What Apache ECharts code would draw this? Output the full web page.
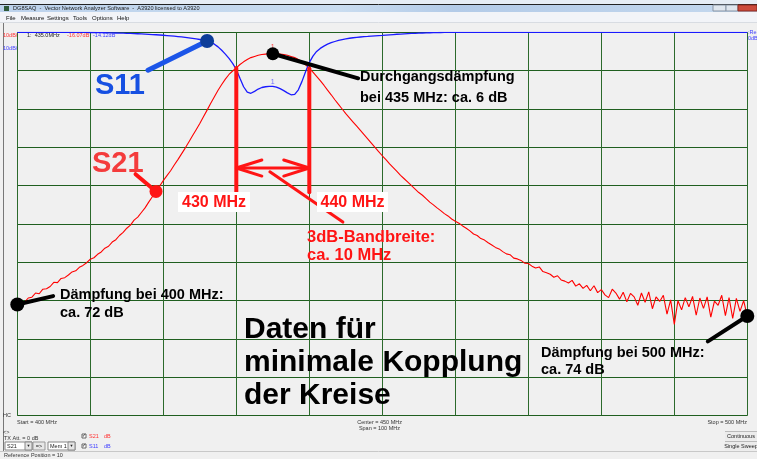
<!DOCTYPE html>
<html>
<head>
<meta charset="utf-8">
<script src="https://cdn.jsdelivr.net/npm/echarts@6/dist/echarts.min.js"></script>
<style>
html, body { margin: 0; padding: 0; background: #f0f0f0; }
#c { width: 757px; height: 459px; }
</style>
</head>
<body>
<div id="c"></div>
<script>
// Sweep: 400 ... 500 MHz, 0.5 MHz per point (201 points)
const sweepStart = 400;
const sweepStep = 0.5;

// |S21| in dB, transmission through the two coupled circuits
const s21 = [
  -71.0,-70.2,-70.4,-69.3,-69.1,-68.0,-68.2,-67.0,-66.9,-66.3,
  -65.2,-65.3,-64.2,-64.0,-63.3,-62.5,-62.2,-61.3,-60.8,-60.1,
  -59.2,-58.8,-57.9,-57.3,-56.3,-55.8,-54.7,-54.1,-53.0,-52.2,
  -51.1,-50.3,-49.0,-48.2,-47.0,-45.8,-44.3,-42.9,-41.5,-40.1,
  -38.7,-37.4,-36.1,-34.6,-33.2,-31.7,-30.2,-28.6,-27.0,-25.4,
  -23.8,-22.0,-20.3,-18.5,-16.8,-15.1,-13.6,-12.2,-11.0,-10.1,
  -9.3,-8.4,-7.7,-7.1,-6.6,-6.3,-6.0,-5.8,-5.7,-5.6,
  -5.6,-5.6,-5.7,-5.8,-6.0,-6.3,-6.6,-7.1,-7.8,-8.5,
  -9.4,-10.4,-11.5,-12.6,-13.8,-15.1,-16.3,-17.6,-18.8,-20.0,
  -21.2,-22.3,-23.4,-24.5,-25.6,-26.7,-27.8,-28.9,-30.0,-31.1,
  -32.2,-33.2,-34.3,-35.3,-36.3,-37.3,-38.2,-39.1,-40.0,-40.9,
  -41.8,-42.5,-43.4,-44.3,-45.0,-45.8,-46.5,-47.3,-47.9,-48.7,
  -49.3,-49.8,-50.5,-51.1,-51.8,-52.6,-53.0,-53.8,-54.2,-54.9,
  -55.5,-56.1,-56.5,-57.2,-57.8,-58.0,-58.9,-59.1,-59.5,-60.2,
  -60.3,-61.0,-61.5,-61.2,-62.4,-62.7,-63.1,-63.9,-63.5,-64.6,
  -64.9,-65.4,-64.7,-66.2,-65.6,-66.8,-66.0,-67.4,-66.1,-67.9,
  -67.1,-68.5,-69.2,-67.0,-68.0,-69.6,-67.8,-70.3,-68.1,-69.0,
  -71.2,-68.0,-70.4,-67.7,-72.1,-69.0,-70.2,-68.6,-73.5,-69.8,
  -76.2,-70.0,-72.4,-69.2,-71.6,-68.9,-73.8,-69.3,-72.0,-69.0,
  -74.3,-70.1,-71.2,-68.6,-73.9,-69.2,-74.6,-69.4,-72.8,-70.0,
  -74.0
];

// |S11| in dB, input reflection
const s11 = [
  0,0,0,0,0,0,0,0,0,0,
  0,0,0,0,0,0,0,0,0,0,
  -0.05,-0.05,-0.08,-0.1,-0.12,-0.14,-0.16,-0.18,-0.2,-0.23,
  -0.26,-0.3,-0.34,-0.38,-0.42,-0.47,-0.52,-0.58,-0.64,-0.7,
  -0.77,-0.85,-0.93,-1.02,-1.12,-1.22,-1.33,-1.45,-1.58,-1.72,
  -1.88,-2.05,-2.25,-2.6,-3.1,-3.8,-4.7,-5.7,-6.8,-8.1,
  -9.7,-12.0,-14.2,-15.6,-15.9,-15.4,-14.8,-14.4,-14.2,-14.1,
  -14.1,-14.3,-14.7,-15.2,-15.8,-16.3,-16.2,-15.0,-12.8,-10.2,
  -7.9,-6.2,-5.0,-4.2,-3.6,-3.1,-2.7,-2.4,-2.1,-1.9,
  -1.7,-1.55,-1.42,-1.32,-1.23,-1.15,-1.08,-1.0,-0.93,-0.86,
  -0.8,-0.72,-0.65,-0.58,-0.51,-0.45,-0.4,-0.35,-0.3,-0.26,
  -0.22,-0.18,-0.15,-0.12,-0.09,-0.07,-0.05,-0.03,-0.02,-0.01,
  0,0,0,0,0,0,0,0,0,0,
  0,0,0,0,0,0,0,0,0,0,
  0,0,0,0,0,0,0,0,0,0,
  0,0,0,0,0,0,0,0,0,0,
  0,0,0,0,0,0,0,0,0,0,
  0,0,0,0,0,0,0,0,0,0,
  0,0,0,0,0,0,0,0,0,0,
  0,0,0,0,0,0,0,0,0,0,
  0
];

// Axis ranges: 10 MHz/div horizontally, 10 dB/div vertically
const freqMin = 400, freqMax = 500, freqDiv = 10;
const dbMin = -100, dbMax = 0, dbDiv = 10;

// Marker and band edges
const markerFreq = 435;
const bandLow = 430, bandHigh = 440;

const freq = s21.map((_, i) => sweepStart + sweepStep * i);
const at = (arr, f) => arr[Math.round((f - sweepStart) / sweepStep)];
const pts = arr => arr.map((v, i) => [freq[i], v]);

const RED = '#ff1414';
const BLUE = '#1a1aff';
const FONT = '"Liberation Sans", Arial, sans-serif';

function seg(points, color, width, z) {
  return {
    type: 'line', data: points, symbol: 'none', silent: true, animation: false,
    lineStyle: { color: color, width: width, cap: 'round' }, z: z || 5, clip: false
  };
}
function dot(p, color, size) {
  return {
    type: 'scatter', data: [p], symbolSize: size, silent: true, animation: false,
    itemStyle: { color: color, opacity: 1 }, z: 8, clip: false
  };
}

// Callout anchors (MHz, dB)
const s11Dot = [426, at(s11, 426)];
const s21Dot = [419, at(s21, 419)];
const peakDot = [markerFreq, at(s21, markerFreq)];
const startDot = [freqMin, s21[0]];
const stopDot = [freqMax, s21[s21.length - 1]];
const arrowDb = -35.4;
const bandLineEnd = -41.7;

const series = [
  { name: 'S21', type: 'line', data: pts(s21), symbol: 'none', animation: false,
    lineStyle: { color: '#ff0000', width: 1.1 }, z: 3 },
  { name: 'S11', type: 'line', data: pts(s11), symbol: 'none', animation: false,
    lineStyle: { color: BLUE, width: 1.3 }, z: 3 },
  // band edge verticals
  seg([[bandLow, at(s21, bandLow)], [bandLow, bandLineEnd]], RED, 4),
  seg([[bandHigh, at(s21, bandHigh)], [bandHigh, bandLineEnd]], RED, 4),
  // double arrow between the band edges
  seg([[bandLow, arrowDb], [bandHigh, arrowDb]], RED, 3),
  seg([[bandLow + 3.5, arrowDb + 2.1], [bandLow, arrowDb], [bandLow + 3.5, arrowDb - 2.1]], RED, 3),
  seg([[bandHigh - 3.5, arrowDb + 2.1], [bandHigh, arrowDb], [bandHigh - 3.5, arrowDb - 2.1]], RED, 3),
  seg([[434.6, -36.4], [444.6, -49.5]], RED, 3),
  // callouts
  seg([[417.9, -9.9], s11Dot], '#1c55e8', 5),
  seg([[416.2, -37.0], s21Dot], RED, 4),
  seg([peakDot, [446.7, -12.0]], '#000', 4),
  seg([startDot, [404.9, -68.8]], '#000', 4),
  seg([stopDot, [494.6, -80.6]], '#000', 4),
  dot(s11Dot, '#0d3d99', 14),
  dot(s21Dot, RED, 13),
  dot(peakDot, '#000', 13),
  dot(startDot, '#000', 14),
  dot(stopDot, '#000', 14),
  // marker numbers
  { type: 'scatter', data: [[markerFreq, at(s11, markerFreq)]], symbolSize: 0, animation: false, z: 6,
    label: { show: true, formatter: '1', position: 'top', distance: 1, color: '#4a4aff', fontSize: 7, fontFamily: FONT } },
  { type: 'scatter', data: [[markerFreq, at(s21, markerFreq)]], symbolSize: 0, animation: false, z: 6,
    label: { show: true, formatter: '1', position: 'top', distance: 3, color: RED, fontSize: 7, fontFamily: FONT } }
];

function t(x, y, s, size, color, bold, align) {
  return { type: 'text', x: x, y: y, z: 100,
    style: { text: s, fill: color, font: (bold ? 'bold ' : '') + size + 'px ' + FONT,
      align: align || 'left', verticalAlign: 'middle' } };
}
function r(x, y, w, h, fill, stroke, z) {
  return { type: 'rect', z: z || 50, shape: { x: x, y: y, width: w, height: h },
    style: { fill: fill, stroke: stroke || null, lineWidth: 1 } };
}

const chrome = [
  // title bar
  r(0, 0, 757, 5, '#e6edf5', null, 40),
  { type: 'line', z: 41, shape: { x1: 0, y1: 4.5, x2: 757, y2: 4.5 }, style: { stroke: '#222', lineWidth: 1 } },
  { type: 'rect', z: 40, shape: { x: 0, y: 5, width: 757, height: 7 },
    style: { fill: new echarts.graphic.LinearGradient(0, 0, 1, 0, [
      { offset: 0, color: '#bcd2ec' }, { offset: 0.45, color: '#c9dcf0' },
      { offset: 0.6, color: '#b3cbe8' }, { offset: 1, color: '#c4d8ee' }]) } },
  r(4, 6, 5, 5, '#2f5a3a', null, 45),
  t(13, 8.5, 'DG8SAQ  -  Vector Network Analyzer Software  -  A3920 licensed to A3920', 5.6, '#222'),
  r(713, 5, 13, 6, '#dfe6ee', '#8895a5', 45),
  r(726, 5, 12, 6, '#dfe6ee', '#8895a5', 45),
  r(738, 5, 19, 6, '#cc4b3c', '#8a2a20', 45),
  // menu bar
  r(0, 12, 757, 10.5, '#f2f4f8', null, 40),
  { type: 'line', z: 41, shape: { x1: 0, y1: 22.5, x2: 757, y2: 22.5 }, style: { stroke: '#d8dce2', lineWidth: 1 } },
  t(6, 18, 'File', 6, '#111'),
  t(21, 18, 'Measure', 6, '#111'),
  t(47, 18, 'Settings', 6, '#111'),
  t(73, 18, 'Tools', 6, '#111'),
  t(92, 18, 'Options', 6, '#111'),
  t(117, 18, 'Help', 6, '#111'),
  // window border on the left
  { type: 'line', z: 41, shape: { x1: 3.5, y1: 23, x2: 3.5, y2: 452 }, style: { stroke: '#777', lineWidth: 1 } },
  // trace scale / marker readout
  t(3, 35.5, '10dB/', 5.5, '#ff3030'),
  t(3, 48.5, '10dB/', 5.5, '#4040ff'),
  t(27, 35.5, '1:  435.0MHz', 5.5, '#222'),
  t(67, 35.5, '-16.07dB', 5.5, '#ff3030'),
  t(93, 35.5, '-14.12dB', 5.5, '#4040ff'),
  t(748, 32, ':Re', 5.5, '#4040ff'),
  t(748, 38, '0dB', 5.5, '#4040ff'),
  // sweep info below the plot
  t(3, 415, 'HC', 5.5, '#333'),
  t(17, 422, 'Start = 400 MHz', 5.5, '#333'),
  t(402, 422, 'Center = 450 MHz', 5.5, '#333', false, 'right'),
  t(400, 428, 'Span = 100 MHz', 5.5, '#333', false, 'right'),
  t(747, 422, 'Stop = 500 MHz', 5.5, '#333', false, 'right'),
  // controls
  t(3, 432, '<>', 5.5, '#333'),
  t(4, 438, 'TX Att. = 0 dB', 5.5, '#333'),
  r(5, 442, 27, 8, '#fff', '#888', 45),
  t(7, 446, 'S21', 5.5, '#222'),
  r(25, 442, 7, 8, '#e4e4e4', '#888', 46),
  t(28.5, 446, '▼', 4, '#222', false, 'center'),
  r(33, 442, 12, 8, '#e8e8e8', '#999', 45),
  t(39, 446, '=>', 5.5, '#222', false, 'center'),
  r(48, 442, 27, 8, '#fff', '#888', 45),
  t(50, 446, 'Mem 1', 5.5, '#222'),
  r(68, 442, 7, 8, '#e4e4e4', '#888', 46),
  t(71.5, 446, '▼', 4, '#222', false, 'center'),
  r(82, 434, 4, 4, '#fff', '#666', 45),
  t(84, 436, '✓', 4.5, '#222', false, 'center'),
  t(89, 436, 'S21', 5.5, '#ff3030'),
  t(104, 436, 'dB', 5.5, '#ff3030'),
  r(82, 444, 4, 4, '#fff', '#666', 45),
  t(84, 446, '✓', 4.5, '#222', false, 'center'),
  t(89, 446, 'S11', 5.5, '#4040ff'),
  t(104, 446, 'dB', 5.5, '#4040ff'),
  r(725, 431.5, 32, 9, '#ececec', null, 45),
  { type: 'line', z: 46, shape: { x1: 725, y1: 431.5, x2: 757, y2: 431.5 }, style: { stroke: '#bbb', lineWidth: 1 } },
  t(741, 436, 'Continuous', 5.5, '#222', false, 'center'),
  r(725, 441.5, 32, 9, '#ececec', null, 45),
  { type: 'line', z: 46, shape: { x1: 725, y1: 441.5, x2: 757, y2: 441.5 }, style: { stroke: '#bbb', lineWidth: 1 } },
  t(741, 446, 'Single Sweep', 5.5, '#222', false, 'center'),
  { type: 'line', z: 41, shape: { x1: 0, y1: 451.5, x2: 757, y2: 451.5 }, style: { stroke: '#c8c8c8', lineWidth: 1 } },
  t(4, 455.5, 'Reference Position = 10', 5.5, '#333')
];

const notes = [
  t(95, 85.5, 'S11', 29, '#1650e2', true),
  t(92, 164, 'S21', 29, '#f43c3c', true),
  t(360, 77, 'Durchgangsdämpfung', 14.5, '#000', true),
  t(360, 98, 'bei 435 MHz: ca. 6 dB', 14.5, '#000', true),
  t(60, 295, 'Dämpfung bei 400 MHz:', 14.5, '#000', true),
  t(60, 313, 'ca. 72 dB', 14.5, '#000', true),
  t(541, 353, 'Dämpfung bei 500 MHz:', 14.5, '#000', true),
  t(541, 370, 'ca. 74 dB', 14.5, '#000', true),
  r(178, 192, 72, 20, '#fff', null, 95),
  t(214, 202.5, '430 MHz', 16, RED, true, 'center'),
  r(317, 192, 71, 20, '#fff', null, 95),
  t(352.5, 202.5, '440 MHz', 16, RED, true, 'center'),
  t(307, 237, '3dB-Bandbreite:', 16.5, RED, true),
  t(307, 255.5, 'ca. 10 MHz', 16.5, RED, true),
  t(244, 330, 'Daten für', 30, '#000', true),
  t(244, 363, 'minimale Kopplung', 30, '#000', true),
  t(244, 396, 'der Kreise', 30, '#000', true)
];

const option = {
  backgroundColor: '#f0f0f0',
  animation: false,
  grid: { left: 17.3, right: 9.7, top: 32.3, bottom: 43.3, containLabel: false },
  xAxis: {
    type: 'value', min: freqMin, max: freqMax, interval: freqDiv,
    axisLine: { show: false }, axisTick: { show: false }, axisLabel: { show: false },
    splitLine: { show: true, lineStyle: { color: '#2c6a2c', width: 1 } }
  },
  yAxis: {
    type: 'value', min: dbMin, max: dbMax, interval: dbDiv,
    axisLine: { show: false }, axisTick: { show: false }, axisLabel: { show: false },
    splitLine: { show: true, lineStyle: { color: '#1f5f1f', width: 1 } }
  },
  series: series,
  graphic: chrome.concat(notes)
};

const chart = echarts.init(document.getElementById('c'), null, { renderer: 'canvas' });
chart.setOption(option);
</script>
</body>
</html>
